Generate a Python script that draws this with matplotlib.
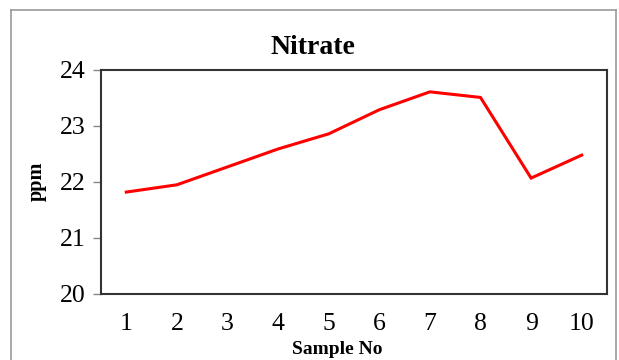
import matplotlib
matplotlib.use("Agg")
import matplotlib.pyplot as plt
from matplotlib.lines import Line2D

samples = [1, 2, 3, 4, 5, 6, 7, 8, 9, 10]
nitrate = [21.82, 21.95, 22.27, 22.59, 22.86, 23.29, 23.61, 23.51, 22.07, 22.48]
y_ticks = [20, 21, 22, 23, 24]

plt.rcParams['font.family'] = ['Liberation Serif', 'DejaVu Serif']

fig = plt.figure(figsize=(6.19, 3.6), dpi=100)
ax = fig.add_axes([101/619, 1-294/360, 506/619, 224/360])

ax.plot(samples, nitrate, color='#FF0000', lw=2.2, solid_joinstyle='miter')
ax.set_xlim(0.5, 10.5)
ax.set_ylim(20, 24)
ax.set_yticks(y_ticks)
ax.set_xticks(samples)
ax.tick_params(axis='y', length=6, width=1, color='#888888', labelsize=18.5, pad=5)
ax.tick_params(axis='x', length=0, labelsize=18.5, pad=14)
for s in ax.spines.values():
    s.set_color('#333333')
    s.set_linewidth(1.5)

fig.text(313/619, 1-47/360, 'Nitrate', ha='center', va='center', fontsize=20, fontweight='bold')
fig.text(37/619, 1-181/360, 'ppm', ha='center', va='center', rotation=90, fontsize=14.5, fontweight='bold')
fig.text(337/619, 1-349/360, 'Sample No', ha='center', va='center', fontsize=14, fontweight='bold')

# outer chart frame
fig.add_artist(Line2D([11/619, 11/619], [0, 1-10/360], transform=fig.transFigure, color='#999999', lw=1.2))
fig.add_artist(Line2D([616/619, 616/619], [0, 1-10/360], transform=fig.transFigure, color='#999999', lw=1.2))
fig.add_artist(Line2D([11/619, 616/619], [1-10/360, 1-10/360], transform=fig.transFigure, color='#999999', lw=1.2))

fig.savefig('out.png', dpi=100)
